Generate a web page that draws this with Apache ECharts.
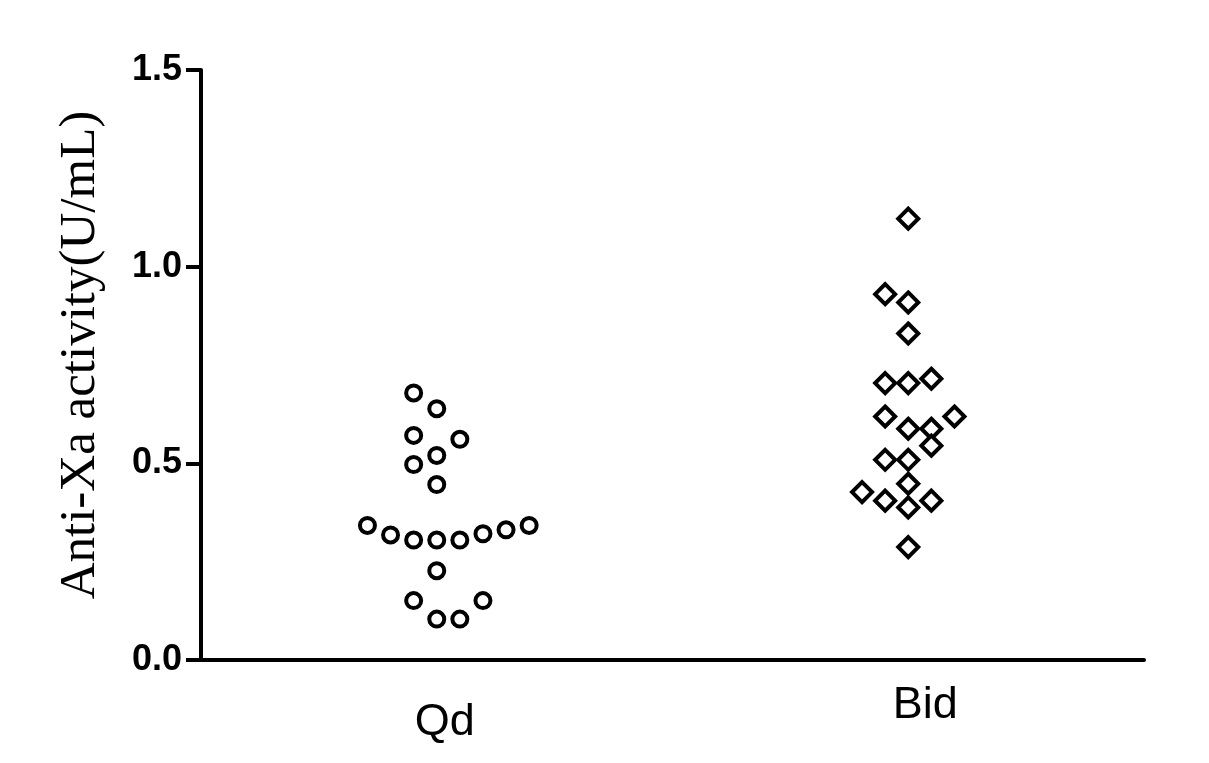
<!DOCTYPE html>
<html>
<head>
<meta charset="utf-8">
<script src="https://cdn.jsdelivr.net/npm/echarts@6/dist/echarts.min.js"></script>
<style>html,body{margin:0;padding:0;background:#fff;}#c{width:1209px;height:763px;}</style>
</head>
<body>
<div id="c"></div>
<script>
const categories = ['Qd', 'Bid'];
const yTicks = [0, 0.5, 1.0, 1.5];
const qdValues = [0.679, 0.639, 0.571, 0.561, 0.520, 0.497, 0.446, 0.342, 0.318, 0.305, 0.305, 0.305, 0.321, 0.331, 0.342, 0.227, 0.151, 0.151, 0.104, 0.104];
const qdSlots  = [-1, 0, -1, 1, 0, -1, 0, -3, -2, -1, 0, 1, 2, 3, 4, 0, -1, 2, 0, 1];
const bidValues = [1.122, 0.930, 0.909, 0.830, 0.704, 0.704, 0.715, 0.619, 0.619, 0.588, 0.588, 0.545, 0.509, 0.509, 0.448, 0.427, 0.405, 0.405, 0.388, 0.287];
const bidSlots  = [0, -1, 0, 0, -1, 0, 1, -1, 2, 0, 1, 1, -1, 0, 0, -2, -1, 1, 0, 0];

const slotSpacing = 23.1;
function build(cat, values, slots) {
  return values.map((v, i) => ({ value: [cat, v], symbolOffset: [slots[i] * slotSpacing, 0] }));
}

const chart = echarts.init(document.getElementById('c'));
chart.setOption({
  backgroundColor: '#fff',
  animation: false,
  grid: { left: 201, right: 65, top: 70, bottom: 103 },
  xAxis: {
    type: 'category',
    data: categories,
    boundaryGap: true,
    axisLine: { lineStyle: { color: '#000', width: 4 } },
    axisTick: { show: false },
    axisLabel: {
      margin: 0,
      formatter: v => v === 'Qd' ? '{q|Qd}' : '{b|Bid}',
      rich: {
        q: { fontFamily: 'Liberation Sans', fontSize: 45, color: '#000', padding: [40, 0, 0, 16] },
        b: { fontFamily: 'Liberation Sans', fontSize: 45, color: '#000', padding: [23, 0, 0, 34] }
      }
    },
    splitLine: { show: false }
  },
  yAxis: {
    type: 'value',
    min: yTicks[0],
    max: yTicks[yTicks.length - 1],
    interval: 0.5,
    name: 'Anti-Xa activity(U/mL)',
    nameLocation: 'middle',
    nameRotate: 90,
    nameGap: 95,
    nameTextStyle: { fontFamily: 'Liberation Serif', fontSize: 51, color: '#000', padding: [0, 0, 0, 20] },
    axisLine: { show: true, lineStyle: { color: '#000', width: 4 } },
    axisTick: { show: true, inside: false, length: 15, lineStyle: { color: '#000', width: 4 } },
    axisLabel: {
      margin: 19,
      fontFamily: 'Liberation Sans',
      fontWeight: 'bold',
      fontSize: 36,
      color: '#000',
      formatter: v => v.toFixed(1)
    },
    splitLine: { show: false }
  },
  series: [
    {
      name: 'Qd', type: 'scatter', symbol: 'circle', symbolSize: 15,
      itemStyle: { color: '#fff', borderColor: '#000', borderWidth: 4, opacity: 1 },
      data: build('Qd', qdValues, qdSlots)
    },
    {
      name: 'Bid', type: 'scatter', symbol: 'diamond', symbolSize: 20,
      itemStyle: { color: '#fff', borderColor: '#000', borderWidth: 4, opacity: 1 },
      data: build('Bid', bidValues, bidSlots)
    }
  ]
});
</script>
</body>
</html>
